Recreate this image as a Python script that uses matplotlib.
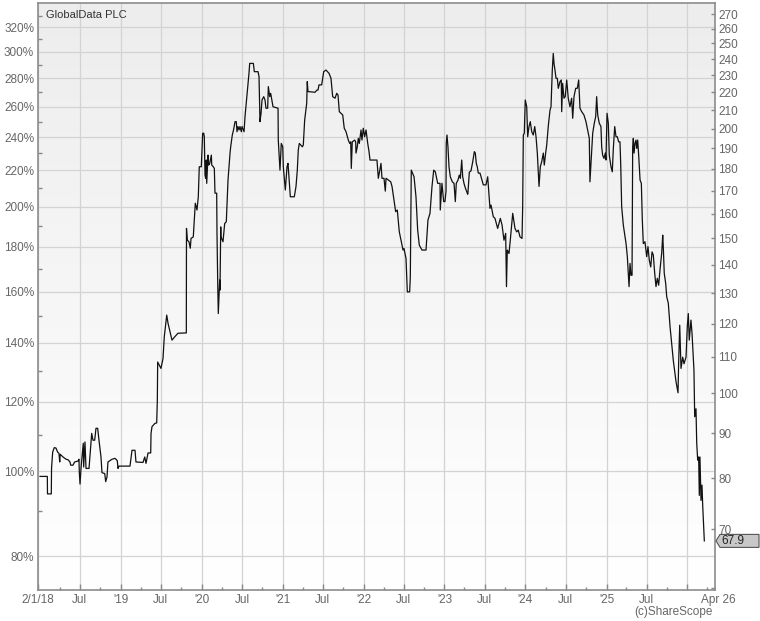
import numpy as np
import pandas as pd
import matplotlib
matplotlib.use('Agg')
import matplotlib.pyplot as plt
import matplotlib.dates as mdates
from matplotlib.colors import LinearSegmentedColormap
from matplotlib.ticker import FixedLocator, FixedFormatter, NullLocator, NullFormatter
from matplotlib.patches import Polygon
from matplotlib.transforms import Affine2D, blended_transform_factory

plt.rcParams['font.family'] = ['Liberation Sans', 'DejaVu Sans']

name = 'GlobalData PLC'
base_price = 81.5   # price that the left axis shows as 100%
last_price = 67.9

# dates as decimal years, prices in pence
years = [
    2018.003, 2018.093, 2018.095, 2018.142, 2018.145, 2018.159, 2018.179, 2018.200, 2018.220, 2018.237,
    2018.246, 2018.252, 2018.287, 2018.324, 2018.348, 2018.373, 2018.382, 2018.410, 2018.430, 2018.472,
    2018.484, 2018.488, 2018.497, 2018.509, 2018.530, 2018.537, 2018.542, 2018.558, 2018.571, 2018.608,
    2018.616, 2018.632, 2018.641, 2018.657, 2018.678, 2018.694, 2018.715, 2018.731, 2018.756, 2018.768,
    2018.802, 2018.814, 2018.830, 2018.842, 2018.892, 2018.929, 2018.957, 2018.966, 2018.978, 2019.114,
    2019.139, 2019.176, 2019.188, 2019.275, 2019.296, 2019.312, 2019.337, 2019.370, 2019.374, 2019.386,
    2019.423, 2019.444, 2019.452, 2019.456, 2019.497, 2019.522, 2019.538, 2019.568, 2019.584, 2019.633,
    2019.670, 2019.707, 2019.802, 2019.810, 2019.812, 2019.822, 2019.843, 2019.859, 2019.868, 2019.896,
    2019.921, 2019.942, 2019.958, 2019.970, 2019.995, 2020.012, 2020.025, 2020.032, 2020.041, 2020.049,
    2020.057, 2020.062, 2020.074, 2020.078, 2020.086, 2020.099, 2020.119, 2020.124, 2020.143, 2020.156,
    2020.164, 2020.185, 2020.189, 2020.198, 2020.205, 2020.222, 2020.226, 2020.235, 2020.238, 2020.263,
    2020.284, 2020.304, 2020.325, 2020.350, 2020.358, 2020.378, 2020.393, 2020.412, 2020.427, 2020.436,
    2020.448, 2020.461, 2020.473, 2020.489, 2020.498, 2020.523, 2020.535, 2020.584, 2020.593, 2020.638,
    2020.650, 2020.696, 2020.708, 2020.720, 2020.733, 2020.745, 2020.766, 2020.782, 2020.794, 2020.815,
    2020.823, 2020.840, 2020.852, 2020.881, 2020.943, 2020.946, 2020.967, 2020.983, 2021.001, 2021.008,
    2021.033, 2021.054, 2021.066, 2021.095, 2021.144, 2021.165, 2021.181, 2021.193, 2021.206, 2021.243,
    2021.255, 2021.272, 2021.297, 2021.304, 2021.313, 2021.400, 2021.424, 2021.437, 2021.449, 2021.482,
    2021.507, 2021.535, 2021.573, 2021.597, 2021.618, 2021.647, 2021.668, 2021.684, 2021.700, 2021.721,
    2021.742, 2021.761, 2021.783, 2021.811, 2021.828, 2021.841, 2021.848, 2021.860, 2021.890, 2021.902,
    2021.906, 2021.922, 2021.934, 2021.947, 2021.968, 2021.980, 2021.996, 2022.013, 2022.030, 2022.051,
    2022.067, 2022.079, 2022.165, 2022.182, 2022.215, 2022.227, 2022.252, 2022.268, 2022.277, 2022.335,
    2022.351, 2022.396, 2022.416, 2022.441, 2022.471, 2022.487, 2022.499, 2022.524, 2022.540, 2022.569,
    2022.577, 2022.589, 2022.623, 2022.647, 2022.668, 2022.688, 2022.721, 2022.771, 2022.795, 2022.820,
    2022.845, 2022.866, 2022.886, 2022.915, 2022.944, 2022.947, 2022.968, 2022.989, 2023.005, 2023.018,
    2023.021, 2023.030, 2023.042, 2023.055, 2023.071, 2023.096, 2023.117, 2023.133, 2023.145, 2023.166,
    2023.182, 2023.195, 2023.212, 2023.224, 2023.240, 2023.256, 2023.286, 2023.289, 2023.306, 2023.327,
    2023.348, 2023.368, 2023.380, 2023.392, 2023.404, 2023.417, 2023.438, 2023.479, 2023.512, 2023.533,
    2023.540, 2023.561, 2023.574, 2023.602, 2023.623, 2023.656, 2023.689, 2023.710, 2023.734, 2023.755,
    2023.765, 2023.775, 2023.796, 2023.812, 2023.842, 2023.870, 2023.891, 2023.911, 2023.932, 2023.957,
    2023.965, 2023.973, 2023.985, 2023.997, 2024.015, 2024.027, 2024.043, 2024.059, 2024.077, 2024.096,
    2024.114, 2024.130, 2024.146, 2024.167, 2024.183, 2024.200, 2024.220, 2024.232, 2024.249, 2024.262,
    2024.282, 2024.303, 2024.315, 2024.331, 2024.343, 2024.352, 2024.364, 2024.377, 2024.393, 2024.405,
    2024.426, 2024.442, 2024.447, 2024.459, 2024.475, 2024.491, 2024.509, 2024.528, 2024.549, 2024.570,
    2024.583, 2024.599, 2024.620, 2024.640, 2024.657, 2024.673, 2024.694, 2024.722, 2024.747, 2024.768,
    2024.788, 2024.796, 2024.809, 2024.830, 2024.850, 2024.867, 2024.879, 2024.892, 2024.911, 2024.932,
    2024.941, 2024.953, 2024.969, 2024.986, 2024.994, 2025.007, 2025.023, 2025.035, 2025.056, 2025.072,
    2025.085, 2025.102, 2025.118, 2025.134, 2025.151, 2025.167, 2025.176, 2025.188, 2025.208, 2025.229,
    2025.242, 2025.258, 2025.270, 2025.279, 2025.291, 2025.303, 2025.316, 2025.324, 2025.332, 2025.341,
    2025.353, 2025.365, 2025.374, 2025.386, 2025.398, 2025.415, 2025.431, 2025.443, 2025.455, 2025.476,
    2025.497, 2025.513, 2025.529, 2025.547, 2025.563, 2025.579, 2025.596, 2025.612, 2025.628, 2025.645,
    2025.661, 2025.682, 2025.695, 2025.702, 2025.714, 2025.732, 2025.744, 2025.764, 2025.785, 2025.806,
    2025.826, 2025.859, 2025.884, 2025.892, 2025.905, 2025.921, 2025.942, 2025.958, 2025.983, 2025.999,
    2026.011, 2026.023, 2026.044, 2026.057, 2026.081, 2026.090, 2026.106, 2026.115, 2026.127, 2026.139,
    2026.147, 2026.155, 2026.168, 2026.180, 2026.189, 2026.209,
]
prices = [
    80.4, 80.4, 76.8, 76.8, 82.1, 85.7, 86.7, 86.6, 85.7, 85.4,
    83.5, 85.2, 84.6, 84.1, 84.0, 83.5, 82.8, 82.8, 83.5, 83.7,
    84.1, 81.3, 78.8, 82.1, 86.1, 87.7, 82.4, 88.0, 82.1, 82.1,
    83.9, 87.7, 90.0, 88.4, 88.4, 91.2, 91.2, 88.4, 84.6, 81.2,
    81.0, 79.3, 80.3, 83.5, 84.1, 84.3, 83.8, 82.1, 82.6, 82.6,
    86.1, 86.1, 83.5, 83.4, 84.6, 83.2, 85.5, 85.5, 90.0, 91.6,
    92.4, 92.5, 98.2, 108.5, 106.7, 109.5, 116.0, 122.7, 120.1, 114.9,
    116.0, 117.0, 117.1, 117.1, 154.0, 149.3, 148.7, 146.2, 150.0, 150.6,
    164.5, 161.6, 167.3, 181.0, 181.0, 197.6, 197.6, 195.8, 177.1, 175.6,
    184.2, 173.3, 182.6, 186.6, 181.8, 182.6, 186.6, 181.8, 181.0, 180.2,
    168.9, 168.9, 152.0, 133.3, 123.2, 134.5, 131.0, 154.6, 150.6, 148.7,
    156.0, 156.7, 174.8, 187.6, 190.7, 196.7, 199.3, 203.7, 203.7, 198.4,
    201.1, 199.3, 201.1, 198.4, 201.1, 198.4, 206.4, 231.2, 237.3, 237.3,
    232.2, 232.2, 229.2, 203.7, 208.2, 215.6, 217.5, 215.6, 211.0, 211.0,
    223.3, 217.5, 219.4, 211.8, 211.0, 194.1, 179.4, 192.4, 190.7, 181.0,
    170.3, 181.0, 182.6, 167.3, 167.3, 171.9, 179.4, 189.1, 192.4, 190.7,
    191.6, 204.6, 213.7, 226.2, 220.4, 220.0, 221.3, 221.3, 224.3, 224.3,
    232.2, 233.2, 231.2, 228.2, 217.5, 216.6, 219.4, 218.4, 209.1, 208.2,
    207.3, 200.2, 198.4, 194.1, 192.4, 193.2, 180.2, 193.2, 194.1, 193.2,
    187.6, 190.7, 195.0, 192.4, 199.3, 194.1, 200.2, 195.8, 199.3, 192.4,
    188.3, 184.2, 184.2, 175.6, 182.6, 175.6, 175.6, 169.8, 175.6, 174.0,
    171.9, 160.9, 161.6, 152.6, 148.0, 145.5, 146.1, 142.3, 130.4, 130.4,
    135.6, 179.4, 176.3, 167.3, 153.3, 147.4, 145.5, 145.5, 157.4, 160.2,
    171.9, 179.4, 178.6, 173.3, 173.3, 161.6, 173.3, 165.2, 165.2, 169.8,
    192.4, 196.7, 190.7, 181.0, 176.3, 174.0, 173.3, 165.2, 173.3, 174.8,
    177.1, 175.6, 184.2, 176.3, 173.3, 171.3, 168.4, 169.1, 178.4, 179.1,
    183.4, 188.3, 187.6, 182.6, 181.0, 178.0, 178.0, 172.6, 172.6, 176.3,
    172.6, 162.3, 163.7, 158.8, 158.1, 154.0, 158.1, 155.4, 149.3, 152.0,
    132.2, 145.5, 144.2, 149.3, 160.2, 154.0, 152.6, 153.3, 150.6, 150.0,
    163.0, 196.7, 197.6, 215.6, 211.8, 195.8, 201.1, 203.7, 198.4, 196.7,
    201.1, 195.8, 187.6, 171.9, 181.0, 183.4, 187.6, 181.8, 187.6, 191.6,
    201.6, 210.0, 211.8, 233.2, 243.6, 237.3, 233.2, 228.2, 228.2, 222.3,
    226.2, 227.2, 209.1, 225.2, 216.6, 217.5, 227.2, 216.6, 211.8, 216.6,
    205.5, 217.5, 222.3, 222.3, 227.2, 211.0, 209.1, 207.3, 203.7, 199.3,
    195.0, 174.0, 182.6, 197.6, 202.9, 206.4, 217.5, 207.3, 202.9, 201.1,
    190.7, 186.6, 185.0, 187.6, 184.2, 208.2, 202.9, 186.6, 181.0, 178.6,
    189.9, 201.1, 195.8, 195.8, 193.2, 193.2, 182.6, 163.0, 155.4, 150.6,
    148.0, 143.0, 136.9, 132.2, 140.5, 136.2, 136.2, 190.7, 195.0, 187.6,
    192.4, 194.1, 189.9, 194.1, 186.6, 174.8, 173.3, 157.4, 148.0, 148.7,
    143.0, 146.8, 141.7, 139.2, 144.8, 143.6, 136.9, 132.2, 135.1, 132.7,
    138.0, 144.2, 151.3, 146.8, 136.9, 133.3, 128.8, 126.6, 119.2, 113.7,
    108.9, 103.1, 100.1, 108.4, 119.5, 106.7, 109.9, 108.0, 109.9, 119.2,
    123.2, 114.9, 121.1, 117.0, 106.2, 94.0, 96.0, 87.8, 83.9, 84.6,
    76.5, 84.6, 75.5, 78.6, 74.5, 67.9,
]

pct_major = list(range(80, 321, 20))
pct_minor = list(range(90, 331, 20))
price_ticks = list(range(60, 271, 10))


def to_date(yr):
    return pd.Timestamp('2018-01-01') + pd.to_timedelta((np.asarray(yr) - 2018) * 365.25, unit='D')


dates = to_date(years)
x_left = mdates.date2num(to_date(2017.9815))
x_right = mdates.date2num(to_date(2026.341))

grid_dates = pd.date_range('2018-07-01', '2026-01-01', freq='6MS')
grid_labels = ['Jul' if d.month == 7 else "'%02d" % (d.year % 100) for d in grid_dates]
grid_labels[-1] = ''
quarter_dates = pd.date_range('2018-04-01', '2026-04-01', freq='6MS')

fig = plt.figure(figsize=(7.6, 6.21), dpi=100)
rect = [0.0504, 0.0499, 0.8904, 0.9453]

# soft grey-to-white background
bg = fig.add_axes(rect, zorder=0)
bg.imshow(np.linspace(0, 1, 256).reshape(-1, 1), aspect='auto', origin='lower',
          extent=[0, 1, 0, 1],
          cmap=LinearSegmentedColormap.from_list('bg', ['#ffffff', '#ededed']))
bg.axis('off')

ax = fig.add_axes(rect, zorder=1)
ax.patch.set_alpha(0)
ax.plot(dates, prices, color='#111111', lw=0.9, zorder=3)

ax.set_yscale('log')
ax.set_ylim(59.7, 278.0)
ax.set_xlim(x_left, x_right)

ax.yaxis.set_major_locator(FixedLocator([base_price * p / 100 for p in pct_major]))
ax.yaxis.set_major_formatter(FixedFormatter(['%d%%' % p for p in pct_major]))
ax.yaxis.set_minor_locator(FixedLocator([base_price * p / 100 for p in pct_minor]))
ax.yaxis.set_minor_formatter(NullFormatter())

ax.xaxis.set_major_locator(FixedLocator([x_left] + list(mdates.date2num(grid_dates))))
ax.xaxis.set_major_formatter(FixedFormatter(['2/1/18'] + grid_labels))
ax.xaxis.set_minor_locator(FixedLocator(mdates.date2num(quarter_dates)))
ax.xaxis.set_minor_formatter(NullFormatter())

ax.grid(True, which='major', color='#d3d3d3', lw=0.9)
ax.set_axisbelow(True)

ax.tick_params(axis='x', which='major', direction='in', length=4.5, width=1, color='#888888',
               labelsize=8.5, labelcolor='#666666', pad=3)
ax.tick_params(axis='x', which='minor', direction='in', length=2.3, width=1, color='#888888')
ax.tick_params(axis='y', which='major', length=0, labelsize=8.5, labelcolor='#666666', pad=3)
ax.tick_params(axis='y', which='minor', direction='in', length=3, width=1, color='#888888')

for s in ax.spines.values():
    s.set_color('#8c8c8c')
    s.set_linewidth(1.2)

ax2 = ax.twinx()
ax2.set_yscale('log')
ax2.set_ylim(ax.get_ylim())
ax2.yaxis.set_major_locator(FixedLocator(price_ticks))
ax2.yaxis.set_major_formatter(FixedFormatter(['' if v == 60 else str(v) for v in price_ticks]))
ax2.yaxis.set_minor_locator(NullLocator())
ax2.tick_params(axis='y', which='major', direction='in', length=3, width=1, color='#888888',
                labelsize=8.5, labelcolor='#666666', pad=2.5)
for s in ax2.spines.values():
    s.set_visible(False)

ax.text(0.011, 0.979, name, transform=ax.transAxes, fontsize=8, color='#333333', va='center')
ax.text(1.0044, -0.0072, 'Apr 26', transform=ax.transAxes, fontsize=8.5, color='#666666',
        ha='center', va='top')
fig.text(713 / 760, 1 - 612.5 / 621, '(c)ShareScope', fontsize=8.5, color='#666666',
         ha='right', va='center')

# last price tag on the right axis
anchor = blended_transform_factory(ax.transAxes, ax.transData).transform((1, last_price))
tag_tr = Affine2D().translate(*anchor)
tag = Polygon([(1, 0), (5, 6.5), (44, 6.5), (44, -6.5), (5, -6.5)], closed=True,
              transform=tag_tr, fc='#c8c8c8', ec='#555555', lw=0.8, clip_on=False, zorder=5)
fig.add_artist(tag)
fig.text(0, 0, '%.1f' % last_price, transform=tag_tr + Affine2D().translate(6, 0),
         fontsize=8.5, color='#222222', ha='left', va='center', zorder=6)

fig.savefig('out.png', dpi=100)
